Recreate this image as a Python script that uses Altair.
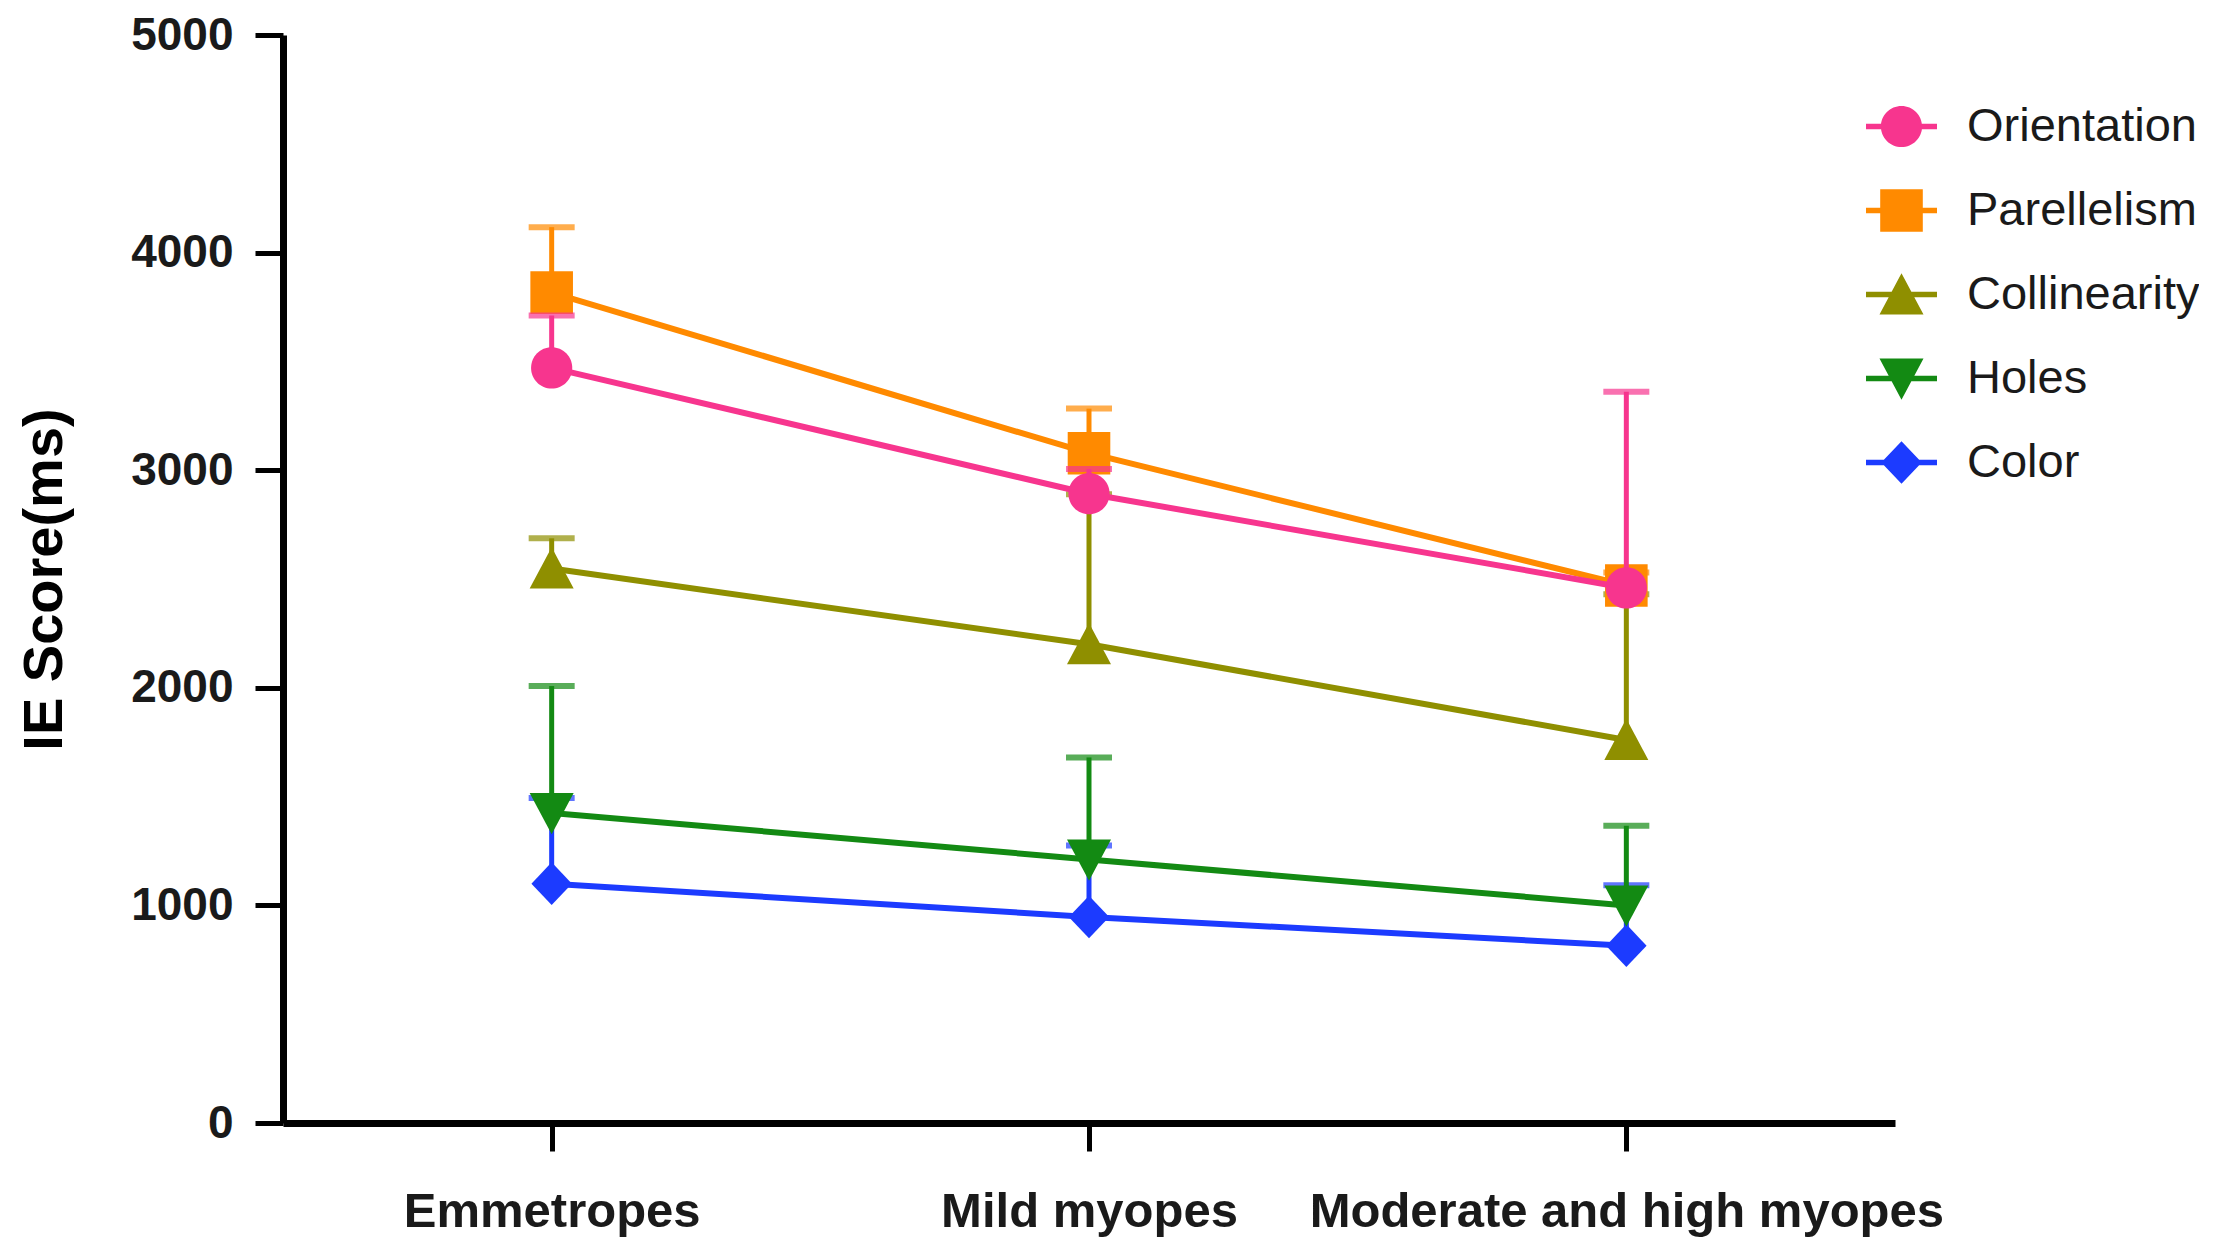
import altair as alt
import pandas as pd

groups = ["Emmetropes", "Mild myopes", "Moderate and high myopes"]
series = ["Orientation", "Parellelism", "Collinearity", "Holes", "Color"]
colors = ["#F7358E", "#FF8A00", "#8F8F00", "#138A13", "#1C3BFF"]

orientation_mean = [3470, 2892, 2459]
orientation_upper = [3711, 3005, 3360]
parallelism_mean = [3816, 3078, 2470]
parallelism_upper = [4117, 3283, 2530]
collinearity_mean = [2548, 2200, 1760]
collinearity_upper = [2687, 2890, 2430]
holes_mean = [1425, 1211, 1000]
holes_upper = [2008, 1680, 1366]
color_mean = [1100, 947, 815]
color_upper = [1494, 1275, 1093]

y_ticks = [0, 1000, 2000, 3000, 4000, 5000]

means = [orientation_mean, parallelism_mean, collinearity_mean, holes_mean, color_mean]
uppers = [orientation_upper, parallelism_upper, collinearity_upper, holes_upper, color_upper]

rows = []
for s, m, u in zip(series, means, uppers):
    for g, mv, uv in zip(groups, m, u):
        rows.append({"group": g, "series": s, "mean": mv, "upper": uv})
df = pd.DataFrame(rows)

# marker shapes (unit box [-1,1])
LINE = "M-1,-0.08H1V0.08H-1Z"
CIRCLE = "M-0.58,0A0.58,0.58,0,1,1,0.58,0A0.58,0.58,0,1,1,-0.58,0Z"
SQUARE = "M-0.6,-0.6H0.6V0.6H-0.6Z"
TRI_UP = "M0,-0.6L0.62,0.56L-0.62,0.56Z"
TRI_DOWN = "M-0.62,-0.56L0.62,-0.56L0,0.6Z"
DIAMOND = "M0,-0.6L0.57,0L0,0.6L-0.57,0Z"
data_shapes = [CIRCLE, SQUARE, TRI_UP, TRI_DOWN, DIAMOND]
legend_shapes = [LINE + " " + p for p in data_shapes]

FONT = "Liberation Sans"
TXT = "#1a1a1a"
PLOT_H = 1088

x_axis = alt.Axis(
    title=None, labelAngle=0, labelFont=FONT, labelFontWeight="bold",
    labelFontSize=49, labelColor=TXT, labelPadding=36, labelLimit=0,
    tickSize=28, tickWidth=5, tickColor="black", domainColor="black",
    domainWidth=7, grid=False,
)
y_axis = alt.Axis(
    title="IE Score(ms)", values=y_ticks, format="d", labelFont=FONT,
    labelFontWeight="bold", labelFontSize=46, labelColor=TXT,
    labelPadding=22, tickSize=28, tickWidth=5, tickColor="black",
    domainColor="black", domainWidth=7, grid=False,
    titleFont=FONT, titleFontWeight="bold", titleFontSize=56, titleColor="black",
    titleAngle=270, titleX=-222, titleY=PLOT_H / 2, titleBaseline="alphabetic",
    titleAlign="center",
)

xenc = alt.X("group:N", sort=groups,
             scale=alt.Scale(type="point", domain=groups, padding=0.5),
             axis=x_axis)


def yenc(field):
    return alt.Y(f"{field}:Q", scale=alt.Scale(domain=[0, 5000], nice=False),
                 axis=y_axis)


base = alt.Chart(df)
layers = []
for s, c, shp in reversed(list(zip(series, colors, data_shapes))):
    sub = base.transform_filter(alt.datum.series == s)
    layers.append(sub.mark_line(color=c, strokeWidth=6).encode(x=xenc, y=yenc("mean")))
    layers.append(sub.mark_rule(color=c, strokeWidth=5).encode(
        x=xenc, y=yenc("mean"), y2="upper:Q"))
    layers.append(sub.mark_tick(color=c, thickness=6, size=46).encode(
        x=xenc, y=yenc("upper")))
    layers.append(sub.mark_point(shape=shp, filled=True, color=c, size=5041,
                                 opacity=1, strokeWidth=0).encode(
        x=xenc, y=yenc("mean")))

leg = alt.Legend(
    title=None, orient="none", legendX=1583, legendY=56, symbolSize=5041,
    symbolStrokeWidth=0, symbolOpacity=1, labelFont=FONT, labelFontSize=47,
    labelColor=TXT, labelOffset=30, rowPadding=25, padding=0, offset=0,
    labelLimit=0,
)
ghost = base.mark_point(filled=True, opacity=0).encode(
    x=xenc, y=yenc("mean"),
    color=alt.Color("series:N", sort=series,
                    scale=alt.Scale(domain=series, range=colors), legend=leg),
    shape=alt.Shape("series:N", sort=series,
                    scale=alt.Scale(domain=series, range=legend_shapes), legend=leg),
)
layers.append(ghost)

chart = alt.layer(*layers).properties(
    width=1612, height=PLOT_H,
    background="white",
    autosize=alt.AutoSizeParams(type="none"),
    padding={"left": 275, "top": 27, "right": 304, "bottom": 116},
).configure_view(strokeWidth=0, stroke=None)

chart.save("out.html", embed_options={"renderer": "svg", "actions": False})
